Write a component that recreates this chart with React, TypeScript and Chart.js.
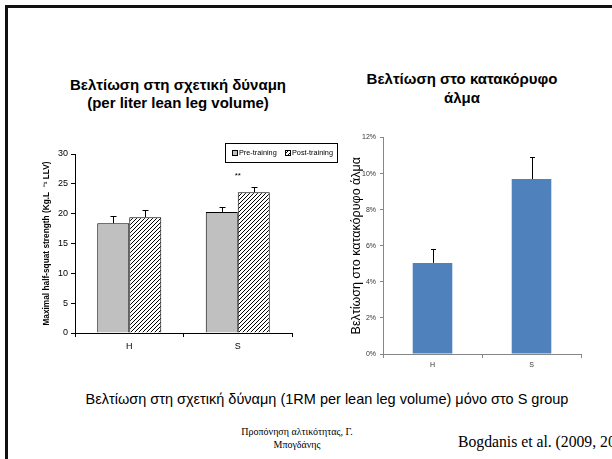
import React, { useEffect, useRef } from "react";
import { Chart, registerables } from "chart.js";

Chart.register(...registerables);

// ---- Data ----
const strengthCategories = ["H", "S"];
const preTraining = [18.4, 20.3];
const preTrainingErr = [1.2, 0.9];
const postTraining = [19.4, 23.6];
const postTrainingErr = [1.2, 0.9];
const strengthTickValues = [0, 5, 10, 15, 20, 25, 30];
const significance = ["", "**"];

const jumpCategories = ["H", "S"];
const jumpImprovement = [5.05, 9.7];
const jumpErr = [0.75, 1.2];
const jumpTickValues = [0, 2, 4, 6, 8, 10, 12];

const SANS = "'Liberation Sans', Arial, sans-serif";
const SERIF = "'Liberation Serif', 'Times New Roman', serif";

const errorBarsPlugin = {
  id: "errorBars",
  afterDatasetsDraw(chart: any, _args: any, opts: any) {
    const { ctx } = chart;
    const y = chart.scales.y;
    (opts.errors || []).forEach((errs: number[], di: number) => {
      if (!errs) return;
      const meta = chart.getDatasetMeta(di);
      const data = chart.data.datasets[di].data as number[];
      meta.data.forEach((bar: any, i: number) => {
        const top = y.getPixelForValue(data[i] + errs[i]);
        const x = Math.round(bar.x) + 0.5;
        ctx.save();
        ctx.strokeStyle = opts.color || "#000";
        ctx.lineWidth = 1;
        ctx.beginPath();
        ctx.moveTo(x, bar.y);
        ctx.lineTo(x, Math.round(top) + 0.5);
        ctx.moveTo(x - opts.cap, Math.round(top) + 0.5);
        ctx.lineTo(x + opts.cap, Math.round(top) + 0.5);
        ctx.stroke();
        ctx.restore();
      });
    });
  },
};

function StrengthChart() {
  const ref = useRef<HTMLCanvasElement>(null);
  useEffect(() => {
    const canvas = ref.current!;
    const ctx = canvas.getContext("2d")!;
    const pc = document.createElement("canvas");
    pc.width = 4;
    pc.height = 4;
    const p = pc.getContext("2d")!;
    p.fillStyle = "#fff";
    p.fillRect(0, 0, 4, 4);
    p.strokeStyle = "#000";
    p.lineWidth = 1;
    p.beginPath();
    p.moveTo(0, 4);
    p.lineTo(4, 0);
    p.moveTo(-1, 1);
    p.lineTo(1, -1);
    p.moveTo(3, 5);
    p.lineTo(5, 3);
    p.stroke();
    const hatch = ctx.createPattern(pc, "repeat")!;

    const annotationPlugin = {
      id: "sigMarks",
      afterDatasetsDraw(chart: any) {
        const c = chart.ctx;
        c.save();
        c.fillStyle = "#000";
        c.font = `8px ${SANS}`;
        c.textAlign = "center";
        c.textBaseline = "middle";
        significance.forEach((s, i) => {
          if (!s) return;
          const x = chart.scales.x.getPixelForValue(i);
          const yy = chart.scales.y.getPixelForValue(26.3);
          c.fillText(s, x, yy);
        });
        c.restore();
      },
    };

    const legendPlugin = {
      id: "boxLegend",
      afterDraw(chart: any) {
        const c = chart.ctx;
        c.save();
        c.strokeStyle = "#000";
        c.lineWidth = 1;
        c.fillStyle = "#fff";
        c.fillRect(190.5, 3.5, 112, 19);
        c.strokeRect(190.5, 3.5, 112, 19);
        const items = [
          { label: "Pre-training", fill: "#c0c0c0", x: 197 },
          { label: "Post-training", fill: hatch, x: 250 },
        ];
        c.font = `7.3px ${SANS}`;
        c.textBaseline = "middle";
        items.forEach((it) => {
          c.fillStyle = it.fill;
          c.fillRect(it.x + 0.5, 10.5, 5, 5);
          c.strokeRect(it.x + 0.5, 10.5, 5, 5);
          c.fillStyle = "#000";
          c.fillText(it.label, it.x + 7, 13);
        });
        c.restore();
      },
    };

    const chart = new Chart(canvas, {
      type: "bar",
      data: {
        labels: strengthCategories,
        datasets: [
          {
            label: "Pre-training",
            data: preTraining,
            backgroundColor: "#c0c0c0",
            borderColor: "#000",
            borderWidth: 1,
          },
          {
            label: "Post-training",
            data: postTraining,
            backgroundColor: hatch as any,
            borderColor: "#000",
            borderWidth: 1,
          },
        ],
      },
      options: {
        responsive: false,
        animation: false,
        devicePixelRatio: 1,
        layout: { padding: { top: 14, right: 53, left: 0, bottom: 0 } },
        datasets: { bar: { categoryPercentage: 0.59, barPercentage: 1 } },
        plugins: {
          legend: { display: false },
          tooltip: { enabled: false },
          title: { display: false },
          errorBars: { errors: [preTrainingErr, postTrainingErr], cap: 3, color: "#000" },
        } as any,
        scales: {
          x: {
            grid: {
              offset: true,
              drawOnChartArea: false,
              drawTicks: true,
              tickLength: 4,
              color: "#000",
            },
            border: { color: "#000", width: 1 },
            ticks: { color: "#000", font: { size: 9, family: SANS }, padding: 4 },
            afterFit(scale: any) {
              scale.height = 27;
            },
          },
          y: {
            min: 0,
            max: 30,
            afterBuildTicks(scale: any) {
              scale.ticks = strengthTickValues.map((v) => ({ value: v }));
            },
            grid: {
              drawOnChartArea: false,
              drawTicks: true,
              tickLength: 4,
              color: "#000",
            },
            border: { color: "#000", width: 1 },
            ticks: { color: "#000", font: { size: 9, family: SANS }, padding: 3 },
            title: {
              display: true,
              text: "Maximal half-squat strength (Kg.L  \u207B\u00B9 LLV)",
              color: "#000",
              font: { size: 8.3, weight: "bold", family: SANS },
              padding: { top: 7, bottom: 0 },
            },
            afterFit(scale: any) {
              scale.width = 40;
            },
          },
        },
      },
      plugins: [errorBarsPlugin, annotationPlugin, legendPlugin],
    });
    return () => chart.destroy();
  }, []);
  return (
    <canvas
      ref={ref}
      width={310}
      height={220}
      style={{ position: "absolute", left: 35, top: 140, width: 310, height: 220 }}
    />
  );
}

function JumpChart() {
  const ref = useRef<HTMLCanvasElement>(null);
  useEffect(() => {
    const canvas = ref.current!;
    const chart = new Chart(canvas, {
      type: "bar",
      data: {
        labels: jumpCategories,
        datasets: [
          {
            label: "Βελτίωση στο κατακόρυφο άλμα",
            data: jumpImprovement,
            backgroundColor: "#4f81bd",
            borderWidth: 0,
          },
        ],
      },
      options: {
        responsive: false,
        animation: false,
        devicePixelRatio: 1,
        layout: { padding: { top: 12.5, right: 19, left: 0, bottom: 0 } },
        datasets: { bar: { categoryPercentage: 0.4, barPercentage: 1 } },
        plugins: {
          legend: { display: false },
          tooltip: { enabled: false },
          errorBars: { errors: [jumpErr], cap: 2.5, color: "#000" },
        } as any,
        scales: {
          x: {
            grid: {
              offset: true,
              drawOnChartArea: false,
              drawTicks: true,
              tickLength: 4,
              color: "#868686",
            },
            border: { color: "#868686", width: 1 },
            ticks: { color: "#333", font: { size: 7, family: SANS }, padding: 3 },
            afterFit(scale: any) {
              scale.height = 21;
            },
          },
          y: {
            min: 0,
            max: 12,
            afterBuildTicks(scale: any) {
              scale.ticks = jumpTickValues.map((v) => ({ value: v }));
            },
            grid: {
              drawOnChartArea: false,
              drawTicks: true,
              tickLength: 3,
              color: "#868686",
            },
            border: { color: "#868686", width: 1 },
            ticks: {
              color: "#333",
              font: { size: 7, family: SANS },
              padding: 4,
              callback: (v: any) => `${v}%`,
            },
            title: {
              display: true,
              text: "Βελτίωση στο κατακόρυφο άλμα",
              color: "#000",
              font: { size: 12.5, family: SANS },
              padding: { top: 4, bottom: 0 },
            },
            afterFit(scale: any) {
              scale.width = 38;
            },
          },
        },
      },
      plugins: [errorBarsPlugin],
    });
    return () => chart.destroy();
  }, []);
  return (
    <canvas
      ref={ref}
      width={255}
      height={250}
      style={{ position: "absolute", left: 345, top: 125, width: 255, height: 250 }}
    />
  );
}

export default function App() {
  return (
    <div
      style={{
        position: "fixed",
        left: 0,
        top: 0,
        width: 612,
        height: 459,
        background: "#fff",
        overflow: "hidden",
        fontFamily: SANS,
        color: "#000",
      }}
    >
      <div style={{ position: "absolute", left: 5, top: 5, width: 607, height: 3, background: "#111" }} />
      <div style={{ position: "absolute", left: 5, top: 5, width: 3, height: 454, background: "#111" }} />

      <div
        style={{
          position: "absolute",
          left: 38,
          width: 280,
          top: 76,
          textAlign: "center",
          fontWeight: "bold",
          fontSize: 15,
          lineHeight: "18px",
          whiteSpace: "nowrap",
        }}
      >
        Βελτίωση στη σχετική δύναμη
        <br />
        (per liter lean leg volume)
      </div>

      <div
        style={{
          position: "absolute",
          left: 332,
          width: 260,
          top: 68.5,
          textAlign: "center",
          fontWeight: "bold",
          fontSize: 15,
          lineHeight: "19px",
          whiteSpace: "nowrap",
        }}
      >
        Βελτίωση στο κατακόρυφο
        <br />
        άλμα
      </div>

      <StrengthChart />
      <JumpChart />

      <div
        style={{
          position: "absolute",
          left: 27,
          width: 600,
          top: 391,
          textAlign: "center",
          fontSize: 14.5,
          lineHeight: "16px",
          whiteSpace: "nowrap",
        }}
      >
        Βελτίωση στη σχετική δύναμη (1RM per lean leg volume) μόνο στο S group
      </div>

      <div
        style={{
          position: "absolute",
          left: 217,
          width: 160,
          top: 425,
          textAlign: "center",
          fontFamily: SERIF,
          fontSize: 10,
          lineHeight: "13px",
        }}
      >
        Προπόνηση αλτικότητας, Γ.
        <br />
        Μπογδάνης
      </div>

      <div
        style={{
          position: "absolute",
          left: 458,
          top: 433,
          fontFamily: SERIF,
          fontSize: 15.7,
          lineHeight: "18px",
          whiteSpace: "nowrap",
        }}
      >
        Bogdanis et al. (2009, 2010)
      </div>
    </div>
  );
}
